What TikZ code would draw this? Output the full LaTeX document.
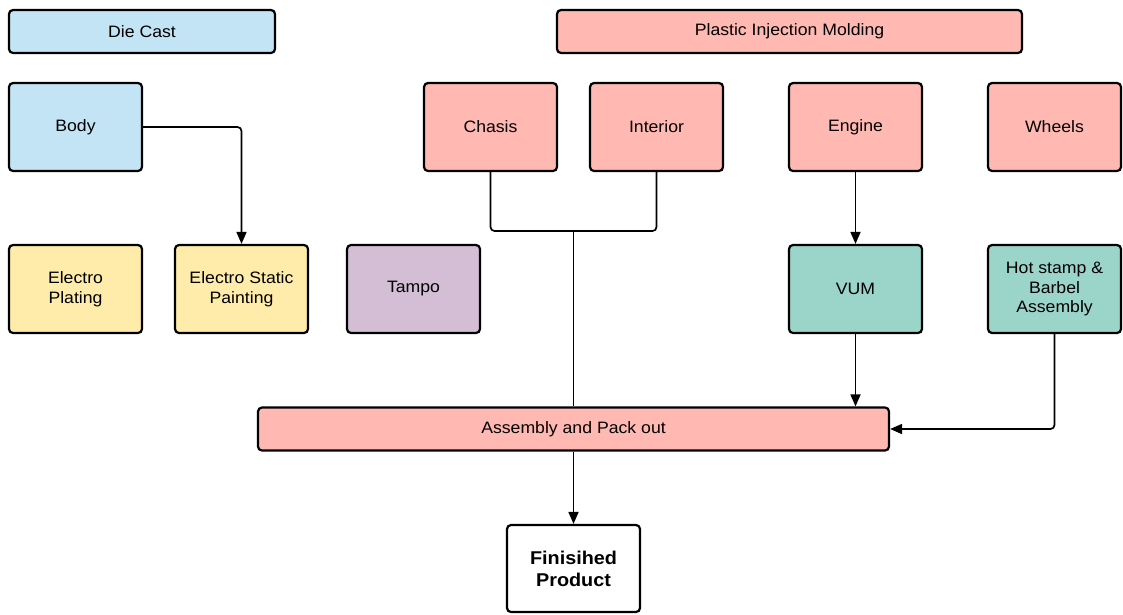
\documentclass[tikz,border=0pt]{standalone}
\usepackage{fontspec}
\setmainfont{Liberation Sans}[FakeStretch=1.07]
\usetikzlibrary{arrows.meta}
\definecolor{cblue}{RGB}{195,228,245}
\definecolor{cpink}{RGB}{255,185,178}
\definecolor{cyellow}{RGB}{255,236,170}
\definecolor{cpurple}{RGB}{211,190,214}
\definecolor{cteal}{RGB}{155,213,202}
\begin{document}
\begin{tikzpicture}[x=1pt,y=-1pt,
  box/.style={draw=black,line width=2.2pt,rounded corners=4pt,align=center,
    font=\fontsize{16.5}{19.5}\selectfont,inner sep=0pt},
  sq/.style={box,minimum width=133pt,minimum height=88pt},
  wide/.style={box,minimum height=43pt},
  conn/.style={line width=1.7pt,rounded corners=4pt},
  arr/.style={conn,-{Triangle[length=12pt,width=10pt]}}]
\useasboundingbox (0,0) rectangle (1123,614);
\node[wide,fill=cblue,minimum width=266pt] (die) at (142,31.5) {Die Cast};
\node[wide,fill=cpink,minimum width=465pt] (pim) at (789.5,31.5) {Plastic Injection Molding};
\node[sq,fill=cblue] (body) at (75.5,127) {Body};
\node[sq,fill=cpink] (chasis) at (490.5,127) {Chasis};
\node[sq,fill=cpink] (interior) at (656.5,127) {Interior};
\node[sq,fill=cpink] (engine) at (855.5,127) {Engine};
\node[sq,fill=cpink] (wheels) at (1054.5,127) {Wheels};
\node[sq,fill=cyellow] (plating) at (75.5,289) {Electro\\Plating};
\node[sq,fill=cyellow] (painting) at (241.5,289) {Electro Static\\Painting};
\node[sq,fill=cpurple] (tampo) at (413.5,289) {Tampo};
\node[sq,fill=cteal] (vum) at (855.5,289) {VUM};
\node[sq,fill=cteal] (hot) at (1054.5,289) {Hot stamp \&\\Barbel\\Assembly};
\node[wide,fill=cpink,minimum width=631pt] (asm) at (573.5,429) {Assembly and Pack out};
\node[sq,fill=white,minimum height=87pt,font=\fontsize{18.5}{22}\selectfont\bfseries] (fin) at (573.5,568.5) {Finisihed\\Product};
\coordinate (j) at (573.5,231);
\draw[arr] (body.east) -| (painting.north);
\draw[conn] (chasis.south) |- (j) -| (interior.south);
\draw[conn] (j) -- (asm.north -| j);
\draw[arr] (engine.south) -- (vum.north);
\draw[arr] (vum.south) -- (asm.north -| vum.south);
\draw[arr] (hot.south) |- (asm.east);
\draw[arr] (asm.south) -- (fin.north);
\end{tikzpicture}
\end{document}
